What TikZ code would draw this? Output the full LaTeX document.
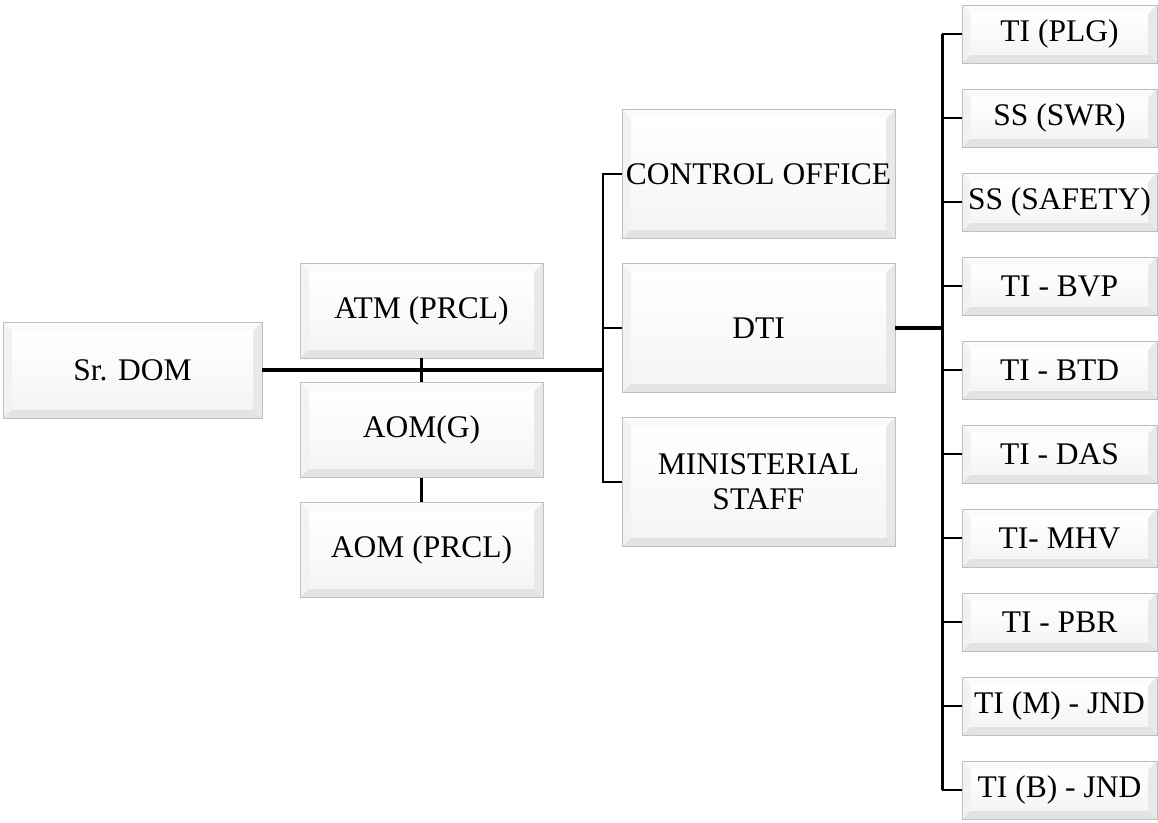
\documentclass[tikz,border=0pt]{standalone}
\usepackage{fontspec}
\setmainfont{Liberation Serif}
\usetikzlibrary{calc}
\tikzset{
  box/.style={draw=gray!50, line width=0.9pt, fill=gray!8, inner sep=0pt, align=center,
    font=\fontsize{31.5}{35}\selectfont,
    path picture={
      \coordinate (pNW) at (path picture bounding box.north west);
      \coordinate (pSE) at (path picture bounding box.south east);
      \coordinate (pNE) at (pNW -| pSE);
      \coordinate (pSW) at (pSE -| pNW);
      \fill[gray!3] (pNW) -- (pNE) -- ($(pNE)+(-9,9)$) -- ($(pNW)+(9,9)$) -- cycle;
      \fill[gray!22] (pSW) -- (pSE) -- ($(pSE)+(-9,-9)$) -- ($(pSW)+(9,-9)$) -- cycle;
      \fill[gray!10] (pNW) -- (pSW) -- ($(pSW)+(9,-9)$) -- ($(pNW)+(9,9)$) -- cycle;
      \fill[gray!18] (pNE) -- (pSE) -- ($(pSE)+(-9,-9)$) -- ($(pNE)+(-9,9)$) -- cycle;
      \shade[top color=white, bottom color=gray!8] ($(pNW)+(9,9)$) rectangle ($(pSE)+(-9,-9)$);
    }},
  leftbox/.style={box, minimum width=259pt, minimum height=96pt},
  colbox/.style={box, minimum width=243pt, minimum height=95pt},
  midbox/.style={box, minimum width=273pt, minimum height=129pt},
  rbox/.style={box, minimum width=195pt, minimum height=58pt},
  mainline/.style={line width=3.6pt},
  branch/.style={line width=2.2pt},
  busline/.style={line width=3pt}
}
\begin{document}
\begin{tikzpicture}[x=1pt, y=-1pt]
\useasboundingbox (0,0) rectangle (1158,822);

\node[leftbox] (dom) at (132.5,370) {Sr. DOM};
\node[colbox] (atm) at (421.5,310.5) {ATM (PRCL)};
\node[colbox] (aomg) at (421.5,430) {AOM(G)};
\node[colbox] (aomp) at (421.5,550) {AOM (PRCL)};

\node[midbox] (ctrl) at (758.5,174) {CONTROL OFFICE};
\node[midbox] (dti) at (758.5,328) {DTI};
\node[midbox] (min) at (758.5,482) {MINISTERIAL\\STAFF};

\node[rbox] (r1) at (1059.5,34) {TI (PLG)};
\node[rbox] (r2) at (1059.5,118) {SS (SWR)};
\node[rbox] (r3) at (1059.5,202) {SS (SAFETY)};
\node[rbox] (r4) at (1059.5,286) {TI - BVP};
\node[rbox] (r5) at (1059.5,370) {TI - BTD};
\node[rbox] (r6) at (1059.5,454) {TI - DAS};
\node[rbox] (r7) at (1059.5,538) {TI- MHV};
\node[rbox] (r8) at (1059.5,622) {TI - PBR};
\node[rbox] (r9) at (1059.5,706) {TI (M) - JND};
\node[rbox] (r10) at (1059.5,790) {TI (B) - JND};

\coordinate (mbus) at (603,370);
\coordinate (rbus) at (942,328);

% left column
\draw[branch] (atm.south) -- (aomg.north);
\draw[branch] (aomg.south) -- (aomp.north);
\draw[mainline] (dom.east) -- (mbus);

% middle bus
\draw[branch] (ctrl.west) -| (mbus);
\draw[branch] (min.west) -| (mbus);
\draw[branch] (dti.west) -- (dti.west -| mbus);

% right bus
\draw[mainline] (dti.east) -- (rbus);
\draw[busline] (r1.west -| rbus) -- (r10.west -| rbus);
\foreach \i in {1,...,10} {
  \draw[branch] (r\i.west) -- (r\i.west -| rbus);
}
\end{tikzpicture}
\end{document}
